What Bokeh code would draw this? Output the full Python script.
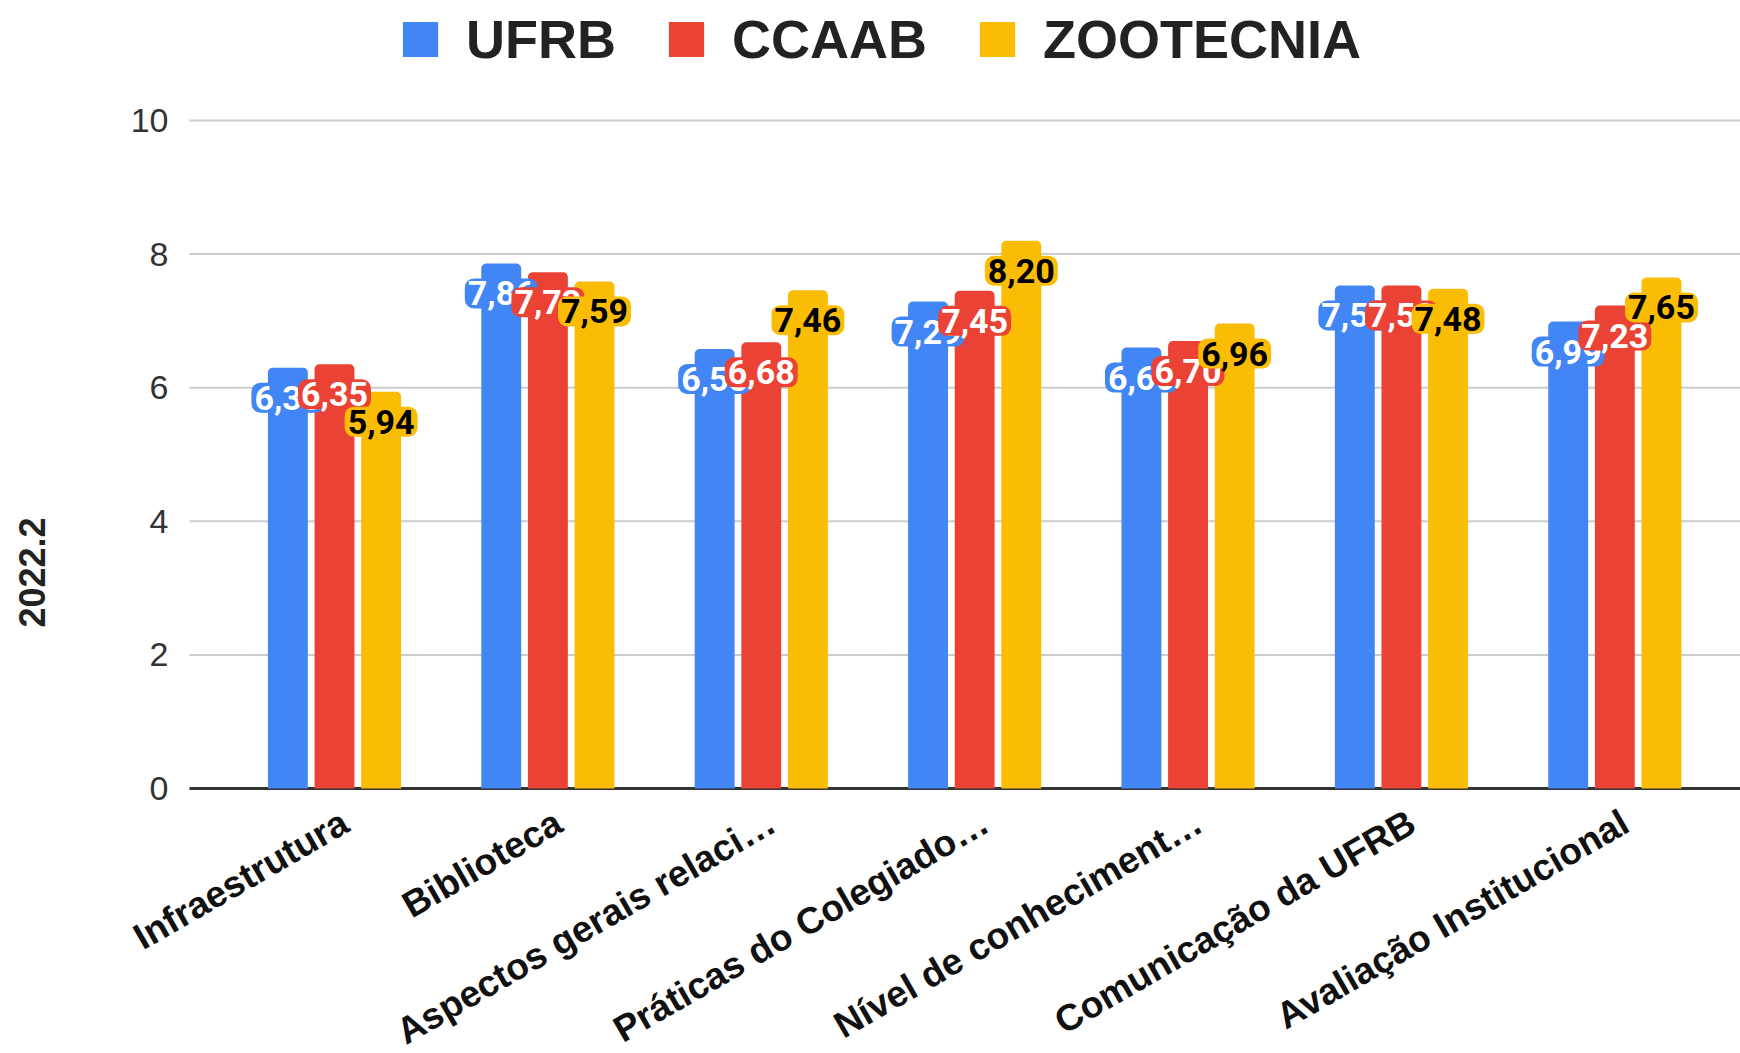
import math
from bokeh.plotting import figure
from bokeh.models import (ColumnDataSource, Range1d, FixedTicker, Legend,
                          LegendItem, Label)
from bokeh.core.properties import value
from bokeh.embed import file_html
from bokeh.resources import INLINE

categories = ["Infraestrutura", "Biblioteca", "Aspectos gerais relaci…",
              "Práticas do Colegiado…", "Nível de conheciment…",
              "Comunicação da UFRB", "Avaliação Institucional"]
series_names = ["UFRB", "CCAAB", "ZOOTECNIA"]
ufrb = [6.30, 7.86, 6.58, 7.29, 6.60, 7.53, 6.99]
ccaab = [6.35, 7.73, 6.68, 7.45, 6.70, 7.53, 7.23]
zootecnia = [5.94, 7.59, 7.46, 8.20, 6.96, 7.48, 7.65]
y_ticks = [0, 2, 4, 6, 8, 10]
y_title = "2022.2"

colors = ["#4285F4", "#EA4335", "#FBBC04"]
label_colors = ["#ffffff", "#ffffff", "#000000"]
series = [ufrb, ccaab, zootecnia]

W, H = 1740, 1053
PX_Y = 66.8     # pixels per unit on the value axis
PX_X = 213.39   # pixels per category
X_LEFT = -0.1795  # data x of the plotting area's left edge
X0 = X_LEFT - 189 / PX_X
# the frame covers the whole canvas; axes are drawn at fixed locations
p = figure(width=W, height=H, output_backend="svg", toolbar_location=None,
           x_range=Range1d(X0, 7.089),
           y_range=Range1d(-(H - 788) / PX_Y, 788 / PX_Y),
           min_border_left=0, min_border_right=0, min_border_top=0,
           min_border_bottom=0)
p.outline_line_color = None
p.background_fill_color = "white"
p.border_fill_color = "white"
p.xgrid.grid_line_color = None
p.ygrid.grid_line_color = None

# gridlines (from the tick list) and the baseline
p.segment(x0=[X_LEFT] * (len(y_ticks) - 1), x1=[7.089] * (len(y_ticks) - 1),
          y0=y_ticks[1:], y1=y_ticks[1:], line_color="#cccccc", line_width=2)
p.segment(x0=[X_LEFT], x1=[7.089], y0=[0], y1=[0],
          line_color="#333333", line_width=3)

bar_w = 0.187
step = 0.2185
renderers = []
for k, (vals, col) in enumerate(zip(series, colors)):
    xs = [i + 0.5 + (k - 1) * step for i in range(len(categories))]
    src = ColumnDataSource(dict(x=xs, top=vals))
    r = p.vbar(x="x", top="top", bottom=0, width=bar_w, source=src,
               fill_color=col, line_color=None, border_radius=(5, 5, 0, 0))
    renderers.append(r)

for k, (vals, col, tcol) in enumerate(zip(series, colors, label_colors)):
    xs = [i + 0.5 + (k - 1) * step for i in range(len(categories))]
    labels = [f"{v:.2f}".replace(".", ",") for v in vals]
    src = ColumnDataSource(dict(x=xs, y=vals, t=labels))
    p.text(x="x", y="y", text="t", source=src, text_align="center",
           text_baseline="middle", y_offset=30, text_font=value("Roboto"),
           text_font_style="bold", text_font_size="34px", text_color=tcol,
           background_fill_color=col, padding=3, border_radius=9)

# value axis
p.yaxis.fixed_location = X_LEFT
p.yaxis.ticker = FixedTicker(ticks=y_ticks)
p.yaxis.axis_line_color = None
p.yaxis.major_tick_line_color = None
p.yaxis.minor_tick_line_color = None
p.yaxis.major_tick_out = 0
p.yaxis.major_tick_in = 0
p.yaxis.major_label_text_font = "Liberation Sans"
p.yaxis.major_label_text_font_size = "34px"
p.yaxis.major_label_text_color = "#333333"
p.yaxis.major_label_standoff = 21

# category axis
tick_pos = [i + 0.5 + 0.05 for i in range(len(categories))]
p.xaxis.fixed_location = 0
p.xaxis.ticker = FixedTicker(ticks=tick_pos)
p.xaxis.major_label_overrides = {t: c for t, c in zip(tick_pos, categories)}
p.xaxis.axis_line_color = None
p.xaxis.major_tick_line_color = None
p.xaxis.minor_tick_line_color = None
p.xaxis.major_tick_out = 0
p.xaxis.major_tick_in = 0
p.xaxis.major_label_orientation = math.pi / 6
p.xaxis.major_label_text_font = "Liberation Sans"
p.xaxis.major_label_text_font_style = "bold"
p.xaxis.major_label_text_font_size = "37px"
p.xaxis.major_label_text_color = "#111111"
p.xaxis.major_label_standoff = 31

ytitle = Label(x=X0 + 32 / PX_X, y=(788 - 572) / PX_Y,
               text=y_title, angle=math.pi / 2, text_align="center",
               text_baseline="middle", text_font="Liberation Sans",
               text_font_style="bold", text_font_size="36px",
               text_color="#222222")
p.add_layout(ytitle)

legend = Legend(items=[LegendItem(label=n, renderers=[r])
                       for n, r in zip(series_names, renderers)],
                orientation="horizontal", location=(398, H - 70),
                glyph_width=44, glyph_height=44, label_standoff=24, spacing=48,
                padding=0, margin=0, border_line_color=None,
                background_fill_alpha=0,
                label_text_font="Liberation Sans", label_text_font_style="bold",
                label_text_font_size="54px", label_text_color="#222222")
p.add_layout(legend, "center")

open("out.html", "w").write(file_html(p, INLINE))
